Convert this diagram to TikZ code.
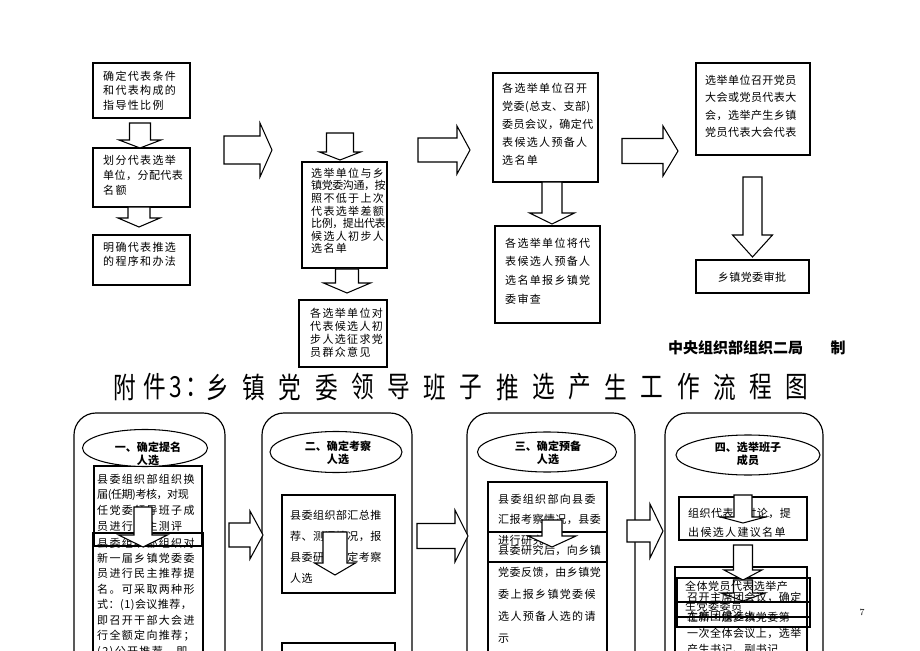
\documentclass[tikz,border=0pt]{standalone}
\usepackage{fontspec}
\newfontfamily\cjk[LetterSpace=12]{Noto Sans CJK SC}
\newfontfamily\cjkn[LetterSpace=4]{Noto Sans CJK SC}
\newfontfamily\cjkt[LetterSpace=-4]{Noto Sans CJK SC}
\newfontfamily\cjkb{Noto Sans CJK SC}
\usetikzlibrary{shapes.geometric,fit}

\newcommand{\lsk}[1]{\fontsize{9.4pt}{#1}\selectfont}
% block arrows (pixel units): centre/left, top/centre, half shaft, half head, head start, tip
\newcommand{\downblk}[6]{\filldraw[blk] (#1-#3,#2) -- (#1+#3,#2) -- (#1+#3,#5) -- (#1+#4,#5) -- (#1,#6) -- (#1-#4,#5) -- (#1-#3,#5) -- cycle;}
\newcommand{\rightblk}[6]{\filldraw[blk] (#1,#2-#3) -- (#5,#2-#3) -- (#5,#2-#4) -- (#6,#2) -- (#5,#2+#4) -- (#5,#2+#3) -- (#1,#2+#3) -- cycle;}

\tikzset{
  box/.style={draw, line width=0.9pt, inner sep=0pt},
  txt/.style={anchor=north west, inner sep=0pt, align=left, font=\cjk\lsk{12.4pt}},
  blk/.style={draw, fill=white, line width=0.9pt},
  col/.style={draw, line width=1pt, rounded corners=0.66cm, inner sep=0pt},
  oval/.style={draw, ellipse, fill=white, line width=0.9pt, inner sep=0pt},
  head/.style={inner sep=0pt, align=center, font=\cjkb\bfseries\fontsize{9.4pt}{11pt}\selectfont},
  ttl/.style={inner sep=0pt, font=\cjkb\fontsize{24.8pt}{26pt}\selectfont},
}

\begin{document}
\begin{tikzpicture}[x=0.03cm, y=-0.03cm]
\useasboundingbox (0,0) rectangle (920,651);
\clip (0,0) rectangle (920,651);

% upper flow
\node[box, fit={(93,63) (190,118)}] (a1) {};
\node[txt] (a1t) at (103,70.5) {确定代表条件\\和代表构成的\\指导性比例};
\node[box, fit={(93,148) (190,207)}] (a2) {};
\node[txt, font=\cjk\lsk{12.8pt}] (a2t) at (103,154.5) {划分代表选举\\{\cjkn 单位，分配代表}\\名额};
\node[box, fit={(93,235) (190,285)}] (a3) {};
\node[txt, font=\cjk\lsk{12pt}] (a3t) at (103,241.5) {明确代表推选\\的程序和办法};
\downblk{140}{123}{10.5}{21}{140}{148}
\downblk{139}{207}{11}{21}{218}{227}
\rightblk{224}{150}{14}{27}{260}{272}

\node[box, fit={(302,162) (387,268)}] (b1) {};
\node[txt, font=\cjk\lsk{10.8pt}] (b1t) at (311,167.5) {选举单位与乡\\{\cjkt 镇党委沟通，按}\\照不低于上次\\代表选举差额\\{\cjkt 比例，提出代表}\\候选人初步人\\选名单};
\node[box, fit={(299,300) (387,367)}] (b2) {};
\node[txt, font=\cjk\lsk{11.2pt}] (b2t) at (310,307.5) {各选举单位对\\代表候选人初\\步人选征求党\\员群众意见};
\downblk{340}{133}{13.5}{20.5}{152}{160}
\downblk{347}{269}{11.5}{23.5}{283}{293}
\rightblk{418}{150}{12}{24}{457}{470}

\node[box, fit={(493,73) (598,182)}] (c1) {};
\node[txt, font=\cjk\lsk{15.4pt}] (c1t) at (502,82.5) {各选举单位召开\\{\cjkn 党委(总支、支部)}\\{\cjkn 委员会议，确定代}\\表候选人预备人\\选名单};
\node[box, fit={(495,226) (600,323)}] (c2) {};
\node[txt, font=\cjk\lsk{16pt}] (c2t) at (505,237.5) {各选举单位将代\\表候选人预备人\\选名单报乡镇党\\委审查};
\downblk{552}{182}{10}{22.5}{213}{224}
\rightblk{622}{151}{12.5}{25}{663}{678}

\node[box, fit={(696,63) (810,155)}] (d1) {};
\node[txt, font=\cjkn\lsk{15pt}] (d1t) at (705,74.5) {选举单位召开党员\\大会或党员代表大\\会，选举产生乡镇\\党员代表大会代表};
\node[box, fit={(696,260) (809,293)}] (d2) {};
\node[inner sep=0pt, font=\cjkn\lsk{12pt}] (d2t) at (752,277) {乡镇党委审批};
\downblk{752.5}{177}{9.5}{20}{235}{257}

\node[anchor=west, inner sep=0pt, font=\cjkb\bfseries\fontsize{12.8pt}{14pt}\selectfont] (sign) at (668,348) {中央组织部组织二局};
\node[inner sep=0pt, font=\cjkb\bfseries\fontsize{12.8pt}{14pt}\selectfont] (sign2) at (838,348) {制};

% title
\foreach \c/\x in {附/125,件/155,3/176,：/197,乡/218,镇/254,党/290,委/327,领/363,导/399,班/435,子/471,推/508,选/544,产/580,生/616,工/652,作/689,流/725,程/761,图/797}
  \node[ttl] (t\x) at (\x,387) {\scalebox{0.78}[1]{\c}};

% lower flow
\node[col, fit={(74,413) (225,700)}] (k1) {};
\node[col, fit={(262,413) (412,700)}] (k2) {};
\node[col, fit={(467,413) (635,700)}] (k3) {};
\node[col, fit={(665,413) (823,700)}] (k4) {};

\node[box, fit={(94,466) (202,546)}] (e1) {};
\node[box, fit={(93,533) (203,700)}] (e2) {};
\node[oval, minimum width=3.75cm, minimum height=1.11cm] (e0) at (145,448) {};
\node[head] (e0t) at (148,454) {一、确定提名\\人选};
\node[txt, font=\cjk\lsk{13.4pt}] (e1t) at (97,473.5) {县委组织部组织换\\{\cjkt 届(任期)考核，对现}\\任党委领导班子成\\员进行民主测评};
\node[txt, font=\cjk\lsk{13.2pt}] (e2t) at (97,537.5) {县委组织部组织对\\新一届乡镇党委委\\员进行民主推荐提\\名。可采取两种形\\{\cjkn 式：(1)会议推荐，}\\即召开干部大会进\\行全额定向推荐；\\(2)公开推荐，即};
\downblk{143}{507}{9}{24.5}{535}{547}
\rightblk{229}{535}{12}{24}{250}{263}

\node[box, fit={(282,495) (395,593)}] (f1) {};
\node[box, fit={(282,643) (395,700)}] (f2) {};
\node[oval, minimum width=3.96cm, minimum height=1.23cm] (f0) at (336,452) {};
\node[head] (f0t) at (338,453) {二、确定考察\\人选};
\node[txt, font=\cjkn\lsk{18pt}] (f1t) at (290,509.5) {县委组织部汇总推\\荐、测评情况，报\\县委研究确定考察\\人选};
\downblk{335}{532}{12}{20.5}{563}{575}
\rightblk{417}{536}{12.5}{26}{455}{468}

\node[box, fit={(488,482) (607,562)}] (g1) {};
\node[box, fit={(488,532) (607,700)}] (g2) {};
\node[oval, minimum width=4.17cm, minimum height=1.2cm] (g0) at (547,452) {};
\node[head] (g0t) at (548,452.5) {三、确定预备\\人选};
\node[txt, font=\cjkn\lsk{17.5pt}] (g1t) at (498,493.5) {{\cjk 县委组织部向县委}\\汇报考察情况，县委\\进行研究};
\node[txt, font=\cjkn\lsk{18.8pt}] (g2t) at (498,544.5) {县委研究后，向乡镇\\党委反馈，由乡镇党\\{\cjk 委上报乡镇党委候}\\{\cjk 选人预备人选的请}\\示};
\downblk{552}{520}{10}{24}{536}{547}
\rightblk{627}{531}{11}{27}{650}{663}

\node[box, fit={(679,497) (807,540)}] (h1) {};
\node[box, fit={(675,567) (807,700)}] (h2) {};
\node[box, fit={(677,578) (810,617)}] (h3) {};
\node[box, fit={(677,602) (810,627)}] (h4) {};
\node[oval, minimum width=4.32cm, minimum height=1.2cm] (h0) at (748,455) {};
\node[head] (h0t) at (748,453.5) {四、选举班子\\成员};
\node[txt, font=\cjkn\lsk{17pt}] (h1t) at (688,507.5) {组织代表团讨论，提\\{\cjk 出候选人建议名单}};
\downblk{743}{495}{9}{22.5}{517}{523}
\downblk{743}{545}{9.5}{19}{570}{580}
\downblk{743}{580}{9.5}{22}{593}{601}
\node[txt, font=\cjkn\lsk{17pt}] (hat) at (685,580.5) {全体党员代表选举产\\生党委委员};
\node[txt, font=\cjkn\lsk{17pt}] (hbt) at (687,591.5) {召开主席团会议，确定\\主席团候选人};
\node[txt, font=\cjkn\lsk{13.7pt}] (hct) at (687,611.5) {在新一届乡镇党委第\\一次全体会议上，选举\\产生书记、副书记};

\node[inner sep=0pt, font=\fontsize{8pt}{9pt}\selectfont] (pg) at (862,612) {7};
\end{tikzpicture}
\end{document}
